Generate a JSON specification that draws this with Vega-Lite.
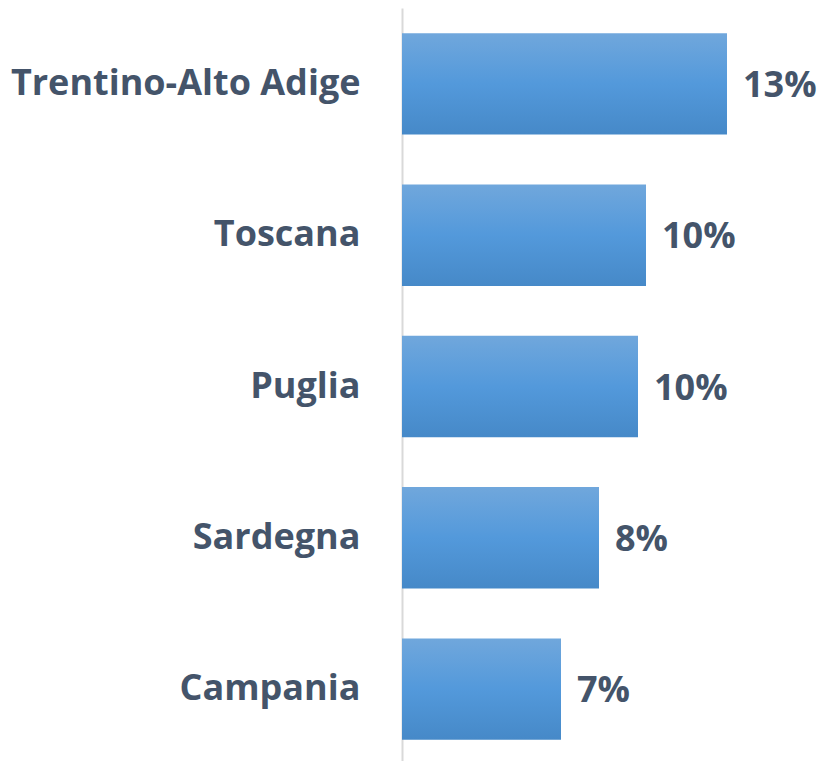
{
  "$schema": "https://vega.github.io/schema/vega-lite/v6.json",
  "autosize": "none",
  "width": 350,
  "height": 757,
  "padding": {"left": 402, "top": 8, "right": 67, "bottom": 0},
  "background": "white",
  "data": {"values": [
    {"region": "Trentino-Alto Adige", "value": 13.0, "label": "13%"},
    {"region": "Toscana", "value": 9.76, "label": "10%"},
    {"region": "Puglia", "value": 9.44, "label": "10%"},
    {"region": "Sardegna", "value": 7.88, "label": "8%"},
    {"region": "Campania", "value": 6.36, "label": "7%"}
  ]},
  "encoding": {
    "y": {"field": "region", "type": "nominal", "sort": null,
      "scale": {"paddingInner": 0.33, "paddingOuter": 0.167},
      "axis": {"title": null, "ticks": false, "labelPadding": 42, "labelLimit": 500,
        "labelFont": "Open Sans", "labelFontWeight": "bold", "labelFontSize": 36, "labelColor": "#44546A",
        "domainColor": "#D9D9D9", "domainWidth": 2}},
    "x": {"field": "value", "type": "quantitative", "scale": {"domain": [0, 14]}, "axis": null}
  },
  "layer": [
    {"mark": {"type": "bar", "color": {"gradient": "linear", "x1": 0, "y1": 0, "x2": 0, "y2": 1,
      "stops": [{"offset": 0, "color": "#70A7DC"}, {"offset": 0.5, "color": "#5399DB"}, {"offset": 1, "color": "#4689C8"}]}}},
    {"mark": {"type": "text", "align": "left", "dx": 16, "dy": 2, "font": "Open Sans", "fontWeight": "bold", "fontSize": 36, "color": "#44546A"},
     "encoding": {"text": {"field": "label"}}}
  ],
  "config": {"view": {"stroke": null}}
}
